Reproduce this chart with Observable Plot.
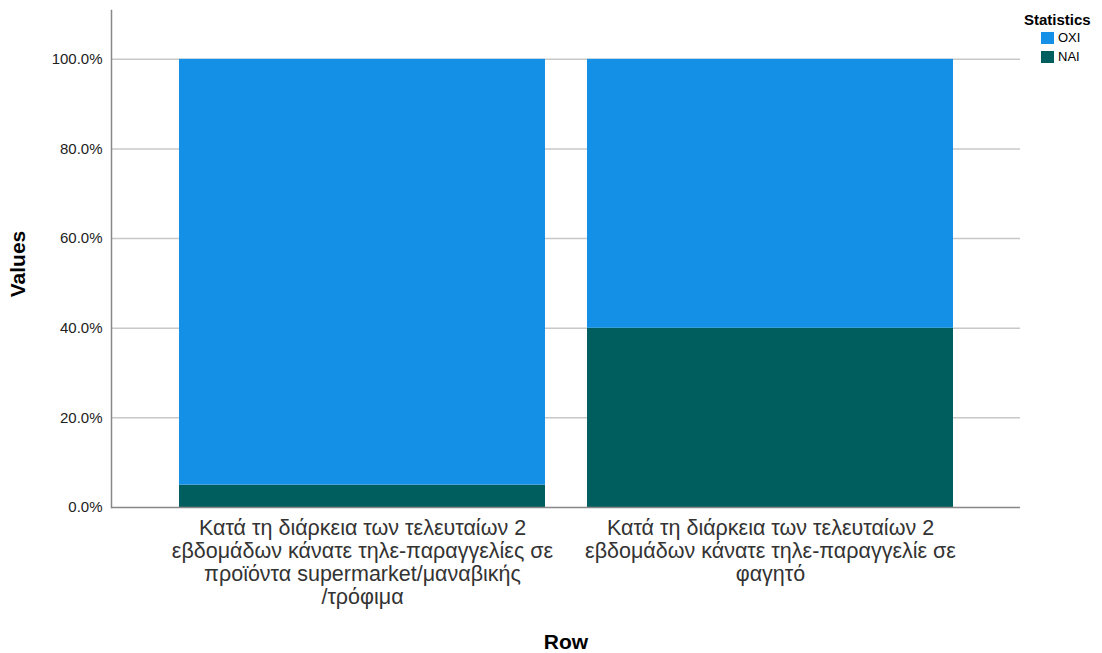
<!DOCTYPE html>
<html>
<head>
<meta charset="utf-8">
<script src="https://cdn.jsdelivr.net/npm/d3@7"></script>
<script src="https://cdn.jsdelivr.net/npm/@observablehq/plot@0.6"></script>
<style>
  html, body { margin: 0; padding: 0; background: #fff; }
  #wrap { position: relative; width: 1102px; height: 653px; font-family: "Liberation Sans", Arial, sans-serif; }
  #legend { position: absolute; left: 1024px; top: 11px; color: #000; }
  #legend .title { font-weight: bold; font-size: 15px; line-height: 17px; }
  #legend .item { display: flex; align-items: center; font-size: 13px; height: 19px; margin-left: 17px; }
  #legend .sw { width: 13px; height: 12px; margin-right: 4px; }
</style>
</head>
<body>
<div id="wrap"></div>
<script>
// ---- data ----
const rows = [
  "Κατά τη διάρκεια των τελευταίων 2 εβδομάδων κάνατε τηλε-παραγγελίες σε προϊόντα supermarket/μαναβικής/τρόφιμα",
  "Κατά τη διάρκεια των τελευταίων 2 εβδομάδων κάνατε τηλε-παραγγελίε σε φαγητό"
];
const rowLabels = [
  "Κατά τη διάρκεια των τελευταίων 2\nεβδομάδων κάνατε τηλε-παραγγελίες σε\nπροϊόντα supermarket/μαναβικής\n/τρόφιμα",
  "Κατά τη διάρκεια των τελευταίων 2\nεβδομάδων κάνατε τηλε-παραγγελίε σε\nφαγητό"
];
const statistics = ["NAI", "OXI"];
const naiValues = [0.05, 0.40];
const oxiValues = [0.95, 0.60];
const yTicks = [0, 0.2, 0.4, 0.6, 0.8, 1.0];
const legendOrder = ["OXI", "NAI"];
const colors = {OXI: "#1491E6", NAI: "#005E5E"};

const table = [];
rows.forEach((r, i) => {
  table.push({row: r, stat: "NAI", value: naiValues[i]});
  table.push({row: r, stat: "OXI", value: oxiValues[i]});
});

const chart = Plot.plot({
  width: 1102,
  height: 653,
  marginLeft: 111,
  marginRight: 82,
  marginTop: 10,
  marginBottom: 146,
  style: {fontFamily: "'Liberation Sans', Arial, sans-serif", background: "#fff"},
  x: {domain: rows, paddingInner: 0.103, paddingOuter: 0.163, label: null},
  y: {domain: [0, 1.109], label: null},
  color: {domain: statistics, range: statistics.map(s => colors[s])},
  marks: [
    Plot.gridY(yTicks.filter(d => d > 0), {stroke: "#c8c8c8", strokeOpacity: 1, strokeWidth: 1.5}),
    Plot.barY(table, {x: "row", y: "value", fill: "stat", order: statistics, inset: 0}),
    Plot.axisY(yTicks, {tickSize: 0, tickPadding: 9, tickFormat: d => (d * 100).toFixed(1) + "%", fontSize: 15, fill: "#222", label: null}),
    Plot.axisX({tickSize: 0, tickPadding: 11, tickFormat: d => rowLabels[rows.indexOf(d)], fontSize: 21.5, lineHeight: 1.07, fill: "#333", label: null}),
    Plot.ruleY([0], {stroke: "#888", strokeWidth: 1.5}),
    Plot.frame({anchor: "left", stroke: "#888", strokeWidth: 1.5}),
    Plot.text(["Values"], {frameAnchor: "left", textAnchor: "middle", dx: -93, dy: 5, rotate: -90, fontSize: 21, fontWeight: "bold", fill: "#000"}),
    Plot.text(["Row"], {frameAnchor: "bottom", dy: 141, fontSize: 21, fontWeight: "bold", fill: "#000"})
  ]
});

const wrap = document.getElementById("wrap");
wrap.appendChild(chart);

const legend = document.createElement("div");
legend.id = "legend";
legend.innerHTML = `<div class="title">Statistics</div>` +
  legendOrder.map(s => `<div class="item"><span class="sw" style="background:${colors[s]}"></span>${s}</div>`).join("");
wrap.appendChild(legend);
</script>
</body>
</html>
